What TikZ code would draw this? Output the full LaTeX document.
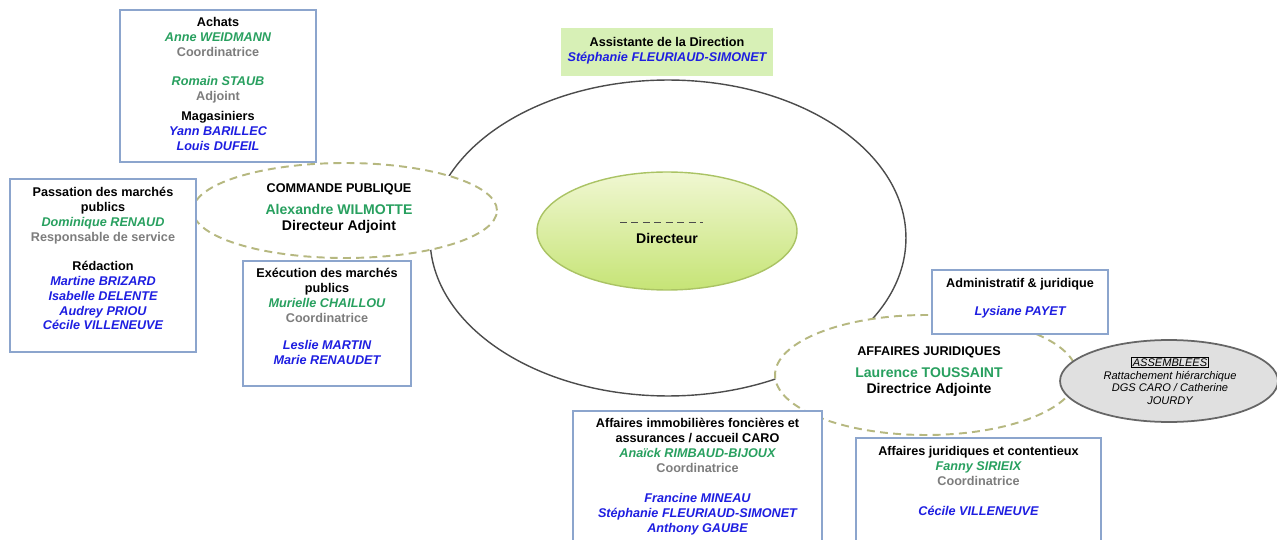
\documentclass[tikz,border=0pt]{standalone}
\usepackage{fontspec}
\setmainfont{Liberation Sans}
\usetikzlibrary{positioning, shapes.geometric, calc}

\definecolor{nomvert}{RGB}{40,160,95}
\definecolor{nombleu}{RGB}{30,30,225}
\definecolor{fonctgris}{RGB}{125,125,125}
\definecolor{cadre}{RGB}{140,165,205}
\definecolor{tirets}{RGB}{182,184,128}
\definecolor{vertclair}{RGB}{215,240,182}

\newcommand{\resp}[1]{{\itshape\color{nomvert}#1}}
\newcommand{\agent}[1]{{\itshape\color{nombleu}#1}}
\newcommand{\fonc}[1]{{\color{fonctgris}#1}}

\begin{document}
\begin{tikzpicture}[
    x=0.02cm, y=-0.02cm,
    % --- Styles ---
    service/.style={draw=cadre, line width=1.4pt, fill=white, inner sep=0pt},
    service_text/.style={align=center, inner sep=0pt, font=\bfseries\fontsize{7.2}{8.5}\selectfont},
    pole/.style={ellipse, draw=tirets, line width=1.1pt, dash pattern=on 4.5pt off 3pt, fill=white, inner sep=0pt},
    pole_text/.style={align=center, inner sep=0pt, font=\bfseries\fontsize{8}{9.1}\selectfont},
    assemblee/.style={ellipse, draw=black!60, fill=black!12, line width=1pt, inner sep=0pt},
]
    \useasboundingbox (0,0) rectangle (1277,540);
    \clip (0,0) rectangle (1277,540);

    % ==========================
    % 1. DIRECTION (centre)
    % ==========================
    \node[ellipse, draw=black!70, line width=0.8pt, minimum width=9.52cm, minimum height=6.32cm] (direction) at (668,238) {};
    \node[ellipse, draw={rgb,255:red,170;green,195;blue,100}, line width=0.8pt,
          top color={rgb,255:red,240;green,247;blue,210}, bottom color={rgb,255:red,198;green,228;blue,118},
          minimum width=5.2cm, minimum height=2.36cm] (directeur) at (667,231) {};
    \draw[black!70, line width=0.5pt, dash pattern=on 4pt off 2.5pt] ($(directeur.center)+(-47,-9)$) -- ++(83,0);
    \node[pole_text] (directeur_txt) at (667,238) {Directeur};

    \node[fill=vertclair, minimum width=4.24cm, minimum height=0.96cm, inner sep=0pt] (assistante) at (667,52) {};
    \node[service_text, below=0.18cm of assistante.north] (assistante_txt) {Assistante de la Direction\\ \agent{Stéphanie FLEURIAUD-SIMONET}};

    % ==========================
    % 2. COMMANDE PUBLIQUE (left)
    % ==========================
    \node[pole, minimum width=6.08cm, minimum height=1.9cm] (commande) at (345,210.5) {};
    \node[pole_text] (commande_txt) at (339,209) {{\fontsize{7.2}{9.1}\selectfont COMMANDE PUBLIQUE}\\[3.4pt] {\color{nomvert}Alexandre WILMOTTE}\\ Directeur Adjoint};

    \node[service, minimum width=3.92cm, minimum height=3.04cm] (achats) at (218,86) {};
    \node[service_text, below=0.16cm of achats.north] (achats_txt) {Achats\\ \resp{Anne WEIDMANN}\\ \fonc{Coordinatrice}\\[8pt] \resp{Romain STAUB}\\ \fonc{Adjoint}\\[3.4pt] Magasiniers\\ \agent{Yann BARILLEC}\\ \agent{Louis DUFEIL}};

    \node[service, minimum width=3.72cm, minimum height=3.46cm] (passation) at (103,265.5) {};
    \node[service_text, below=0.18cm of passation.north] (passation_txt) {Passation des marchés\\ publics\\ \resp{Dominique RENAUD}\\ \fonc{Responsable de service}\\[8pt] Rédaction\\ \agent{Martine BRIZARD}\\ \agent{Isabelle DELENTE}\\ \agent{Audrey PRIOU}\\ \agent{Cécile VILLENEUVE}};

    \node[service, minimum width=3.36cm, minimum height=2.5cm] (execution) at (327,323.5) {};
    \node[service_text, below=0.16cm of execution.north] (execution_txt) {Exécution des marchés\\ publics\\ \resp{Murielle CHAILLOU}\\ \fonc{Coordinatrice}\\[6.8pt] \agent{Leslie MARTIN}\\ \agent{Marie RENAUDET}};

    % ==========================
    % 3. AFFAIRES JURIDIQUES (right)
    % ==========================
    \node[pole, minimum width=6.04cm, minimum height=2.4cm] (juridique) at (926,375) {};
    \node[pole_text] (juridique_txt) at (929,371.5) {{\fontsize{7.2}{9.1}\selectfont AFFAIRES JURIDIQUES}\\[3.4pt] {\color{nomvert}Laurence TOUSSAINT}\\ Directrice Adjointe};

    \node[assemblee, minimum width=4.36cm, minimum height=1.64cm] (assemblees) at (1169,381) {};
    \node[align=center, inner sep=0pt, font=\mdseries\itshape\fontsize{6.3}{7.2}\selectfont] (assemblees_txt) at (1170,381)
        {\setlength{\fboxsep}{0.4pt}\setlength{\fboxrule}{0.4pt}\fbox{ASSEMBLEES}\\ Rattachement hiérarchique\\ DGS CARO / Catherine\\ JOURDY};

    \node[service, minimum width=3.52cm, minimum height=1.28cm] (administratif) at (1020,302) {};
    \node[service_text, below=0.19cm of administratif.north] (administratif_txt) {Administratif \& juridique\\[7.4pt] \agent{Lysiane PAYET}};

    \node[service, minimum width=4.98cm, minimum height=2.98cm] (immobilier) at (697.5,485.5) {};
    \node[service_text, below=0.17cm of immobilier.north] (immobilier_txt) {Affaires immobilières foncières et\\ assurances / accueil CARO\\ \resp{Anaïck RIMBAUD-BIJOUX}\\ \fonc{Coordinatrice}\\[8.5pt] \agent{Francine MINEAU}\\ \agent{Stéphanie FLEURIAUD-SIMONET}\\ \agent{Anthony GAUBE}};

    \node[service, minimum width=4.9cm, minimum height=2.44cm] (contentieux) at (978.5,499) {};
    \node[service_text, below=0.18cm of contentieux.north] (contentieux_txt) {Affaires juridiques et contentieux\\ \resp{Fanny SIRIEIX}\\ \fonc{Coordinatrice}\\[8.5pt] \agent{Cécile VILLENEUVE}};

\end{tikzpicture}
\end{document}
